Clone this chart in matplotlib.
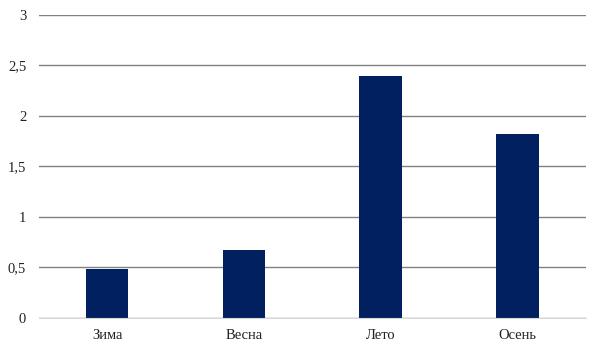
import matplotlib.pyplot as plt

seasons = ["Зима", "Весна", "Лето", "Осень"]
values = [0.48, 0.67, 2.4, 1.82]
yticks = [0, 0.5, 1, 1.5, 2, 2.5, 3]

plt.rcParams['font.family'] = ['Liberation Serif', 'DejaVu Serif']

fig = plt.figure(figsize=(5.96, 3.63), dpi=100)
ax = fig.add_axes([0.065, 0.124, 0.918, 0.835])

ax.bar(range(len(seasons)), values, width=0.31, color='#002060', zorder=3)

ax.set_xlim(-0.5, len(seasons) - 0.5)
ax.set_ylim(0, 3)
ax.set_yticks(yticks)
ax.set_yticklabels([f"{t:g}".replace('.', ',') for t in yticks])
ax.set_xticks(range(len(seasons)))
ax.set_xticklabels(seasons)

ax.grid(axis='y', color='#808080', linewidth=1, zorder=0)
for s in ['top', 'right', 'left']:
    ax.spines[s].set_visible(False)
ax.spines['bottom'].set_color('#d9d9d9')
ax.spines['bottom'].set_zorder(4)
ax.tick_params(length=0, labelsize=10.5, colors='#222222', pad=8)
ax.tick_params(axis='y', pad=9)

fig.savefig("out.png", dpi=100, facecolor='white')
